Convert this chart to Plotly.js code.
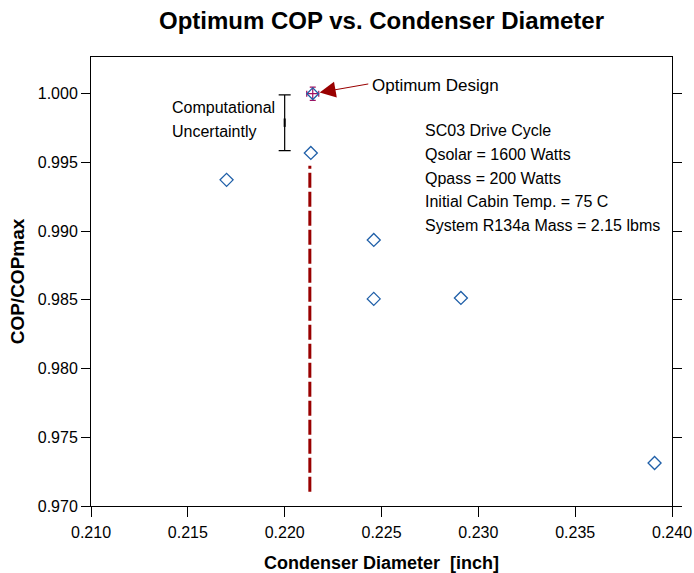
<!DOCTYPE html>
<html>
<head>
<meta charset="utf-8">
<script src="https://cdn.plot.ly/plotly-3.0.1.min.js"></script>
<style>html,body{margin:0;padding:0;background:#fff;}#chart{width:694px;height:573px;}</style>
</head>
<body>
<div id="chart"></div>
<script>
// Design points
const diameter = [0.2170, 0.22135, 0.2246, 0.2246, 0.2291, 0.2391];
const copRatio = [0.99373, 0.99569, 0.98936, 0.98507, 0.98514, 0.97313];

// Optimum design with its uncertainty
const optX = [0.22145];
const optY = [1.0000];
const optErrX = [0.00031];
const optErrY = [0.00048];

// Computational uncertainty bar
const uncX = [0.2200];
const uncY = [0.99789];
const uncErr = [0.00203];

// Vertical dashed line at the optimum diameter
const lineX = [0.2213, 0.2213];
const lineY = [0.97104, 0.99475];

// Text
const infoLines = ["SC03 Drive Cycle", "Qsolar = 1600 Watts", "Qpass = 200 Watts",
  "Initial Cabin Temp. = 75 C", "System R134a Mass = 2.15 lbms"];
const infoY = [0.99733, 0.99556, 0.99386, 0.99216, 0.99041];
const uncLabel = ["Computational", "Uncertaintly"];
const uncLabelY = [0.99897, 0.99728];
const xTicks = [0.210, 0.215, 0.220, 0.225, 0.230, 0.235, 0.240];
const yTicks = [0.970, 0.975, 0.980, 0.985, 0.990, 0.995, 1.000];

const FONT = "Liberation Sans, Arial, sans-serif";
const blue = "#1f5fa8";
const darkRed = "#990000";

const traces = [
  {
    x: lineX, y: lineY, type: "scatter", mode: "lines",
    line: {color: darkRed, width: 3, dash: "15px,4px"}, hoverinfo: "skip"
  },
  {
    x: diameter, y: copRatio, type: "scatter", mode: "markers",
    marker: {symbol: "diamond-open", size: 10, color: blue, line: {width: 1.3, color: blue}}
  },
  {
    x: uncX, y: uncY, type: "scatter", mode: "markers",
    marker: {symbol: "line-ns", size: 6, line: {width: 2, color: "#000"}},
    error_y: {type: "data", array: uncErr, visible: true, color: "#000", thickness: 1.2, width: 6}
  },
  {
    x: optX, y: optY, type: "scatter", mode: "markers",
    marker: {symbol: "diamond-open", size: 9, color: blue, line: {width: 1.3, color: blue}},
    error_x: {type: "data", array: optErrX, visible: true, color: "#a01060", thickness: 1.2, width: 3},
    error_y: {type: "data", array: optErrY, visible: true, color: "#a01060", thickness: 1.2, width: 3}
  }
];

const annotations = [];
infoLines.forEach((t, i) => annotations.push({
  x: 0.22716, y: infoY[i], xref: "x", yref: "y", text: t, showarrow: false,
  xanchor: "left", yanchor: "middle", font: {family: FONT, size: 16, color: "#000"}
}));
uncLabel.forEach((t, i) => annotations.push({
  x: 0.21406, y: uncLabelY[i], xref: "x", yref: "y", text: t, showarrow: false,
  xanchor: "left", yanchor: "middle", font: {family: FONT, size: 16, color: "#000"}
}));
annotations.push({
  x: optX[0], y: optY[0], xref: "x", yref: "y", text: "", showarrow: true,
  ax: 57, ay: -10, arrowhead: 2, arrowsize: 3.2, arrowwidth: 1, arrowcolor: darkRed, standoff: 7
});
annotations.push({
  x: 0.22442, y: 1.00058, xref: "x", yref: "y", text: "Optimum Design", showarrow: false,
  xanchor: "left", yanchor: "middle", font: {family: FONT, size: 17, color: "#000"}
});

const layout = {
  width: 694, height: 573,
  margin: {l: 91, r: 22, t: 57, b: 67},
  paper_bgcolor: "#fff", plot_bgcolor: "#fff",
  showlegend: false,
  font: {family: FONT, size: 16, color: "#000"},
  title: {
    text: "<b>Optimum COP vs. Condenser Diameter</b>",
    font: {family: FONT, size: 24, color: "#000"},
    x: 0.5, xref: "paper", y: 1 - 21 / 573, yanchor: "middle"
  },
  xaxis: {
    range: [0.210, 0.240], tickvals: xTicks, ticktext: xTicks.map(v => v.toFixed(3)),
    showgrid: false, zeroline: false, showline: true, mirror: true,
    linecolor: "#000", linewidth: 1, ticks: "outside", ticklen: 10, tickcolor: "#000",
    ticklabelstandoff: 2,
    tickfont: {family: FONT, size: 16, color: "#000"},
    title: {text: "<b>Condenser Diameter  [inch]</b>", font: {family: FONT, size: 18, color: "#000"}, standoff: 18}
  },
  yaxis: {
    range: [0.970, 1.00267], tickvals: yTicks, ticktext: yTicks.map(v => v.toFixed(3)),
    showgrid: false, zeroline: false, showline: true, mirror: "ticks",
    linecolor: "#000", linewidth: 1, ticks: "outside", ticklen: 9, tickcolor: "#000",
    tickfont: {family: FONT, size: 16, color: "#000"},
    title: {text: "<b>COP/COPmax</b>", font: {family: FONT, size: 19, color: "#000"}, standoff: 8}
  },
  annotations: annotations
};

Plotly.newPlot("chart", traces, layout, {displayModeBar: false, staticPlot: true});
</script>
</body>
</html>
